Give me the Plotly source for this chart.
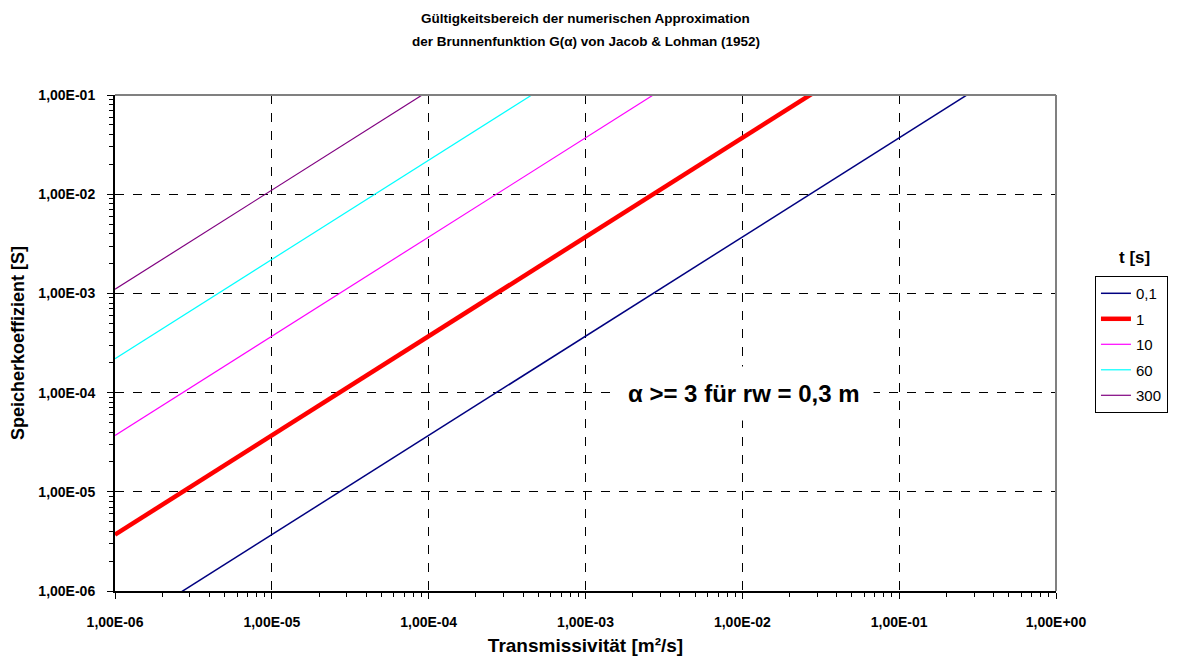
import plotly.graph_objects as go

# Data
T_values = [1e-6, 1e-5, 1e-4, 1e-3, 1e-2, 1e-1, 1e0]
series_names = ["0,1", "1", "10", "60", "300"]
S_t0_1 = [3.7e-7, 3.7e-6, 3.7e-5, 3.7e-4, 3.7e-3, 3.7e-2, 3.7e-1]
S_t1 = [3.7e-6, 3.7e-5, 3.7e-4, 3.7e-3, 3.7e-2, 3.7e-1, 3.7e0]
S_t10 = [3.7e-5, 3.7e-4, 3.7e-3, 3.7e-2, 3.7e-1, 3.7e0, 3.7e1]
S_t60 = [2.2e-4, 2.2e-3, 2.2e-2, 2.2e-1, 2.2e0, 2.2e1, 2.2e2]
S_t300 = [1.1e-3, 1.1e-2, 1.1e-1, 1.1e0, 1.1e1, 1.1e2, 1.1e3]

x_tick_vals = [1e-6, 1e-5, 1e-4, 1e-3, 1e-2, 1e-1, 1e0]
x_tick_text = ["1,00E-06", "1,00E-05", "1,00E-04", "1,00E-03", "1,00E-02", "1,00E-01", "1,00E+00"]
y_tick_vals = [1e-6, 1e-5, 1e-4, 1e-3, 1e-2, 1e-1]
y_tick_text = ["1,00E-06", "1,00E-05", "1,00E-04", "1,00E-03", "1,00E-02", "1,00E-01"]

title_lines = ["Gültigkeitsbereich der numerischen Approximation",
               "der Brunnenfunktion G(α) von Jacob &amp; Lohman (1952)"]

all_S = [S_t0_1, S_t1, S_t10, S_t60, S_t300]
colors = ["#000080", "#FF0000", "#FF00FF", "#00FFFF", "#800080"]
widths = [1.5, 4.5, 1.2, 1.2, 1.2]

fig = go.Figure()
for name, S, c, w in zip(series_names, all_S, colors, widths):
    fig.add_trace(go.Scatter(x=T_values, y=S, mode="lines", name=name,
                             legendgroup=name,
                             line=dict(color=c, width=w)))

FONT = "Liberation Sans, Arial, sans-serif"

fig.update_layout(
    width=1184, height=657,
    margin=dict(l=107, r=136, t=87, b=74),
    paper_bgcolor="white", plot_bgcolor="white",
    font=dict(family=FONT, color="black"),
    showlegend=True,
    legend=dict(x=1.0414, xanchor="left", y=0.635, yanchor="top",
                bordercolor="black", borderwidth=1, bgcolor="white",
                font=dict(size=15, family=FONT),
                traceorder="grouped", tracegroupgap=3,
                itemwidth=30),
)

fig.update_xaxes(
    type="log", range=[-6, 0], automargin=False,
    tickvals=x_tick_vals, ticktext=x_tick_text,
    tickfont=dict(size=14, family=FONT, weight="bold"),
    ticks="outside", ticklen=6, tickcolor="black",
    showline=True, linecolor="black", linewidth=2,
    showgrid=True, gridcolor="black", griddash="dash", gridwidth=1,
    minor=dict(ticks="outside", ticklen=4, tickcolor="black", dtick="D1", showgrid=False),
    ticklabelstandoff=11,
    title=dict(text="<b>Transmissivität [m²/s]</b>", font=dict(size=19, family=FONT), standoff=10),
)
fig.update_yaxes(
    type="log", range=[-6, -1], automargin=False,
    tickvals=y_tick_vals, ticktext=y_tick_text,
    tickfont=dict(size=14, family=FONT, weight="bold"),
    ticks="outside", ticklen=6, tickcolor="black",
    showline=True, linecolor="black", linewidth=2,
    showgrid=True, gridcolor="black", griddash="dash", gridwidth=1,
    minor=dict(ticks="outside", ticklen=4, tickcolor="black", dtick="D1", showgrid=False),
    ticklabelstandoff=9,
    title=dict(text="<b>Speicherkoeffizient [S]</b>", font=dict(size=18, family=FONT), standoff=10),
)

# Gray top/right border
fig.add_shape(type="line", xref="paper", yref="paper", x0=0, x1=1, y0=1, y1=1,
              line=dict(color="#808080", width=2), layer="above")
fig.add_shape(type="line", xref="paper", yref="paper", x0=1, x1=1, y0=0, y1=1,
              line=dict(color="#808080", width=2), layer="above")

# Title as two lines
for line_text, yy in zip(title_lines, [1.155, 1.107]):
    fig.add_annotation(text="<b>" + line_text + "</b>", xref="paper", yref="paper",
                       x=0.5, y=yy, xanchor="center", yanchor="middle",
                       showarrow=False, font=dict(size=13.5, family=FONT))

fig.add_annotation(text="<b>α >= 3 für rw = 0,3 m</b>", xref="paper", yref="paper",
                   x=0.668, y=0.399, xanchor="center", yanchor="middle",
                   showarrow=False, bgcolor="white",
                   font=dict(size=24, family=FONT), borderpad=13)

fig.add_annotation(text="<b>t [s]</b>", xref="paper", yref="paper",
                   x=1.0835, y=0.673, xanchor="center", yanchor="middle",
                   showarrow=False, font=dict(size=17, family=FONT))

fig.write_html("out.html")
